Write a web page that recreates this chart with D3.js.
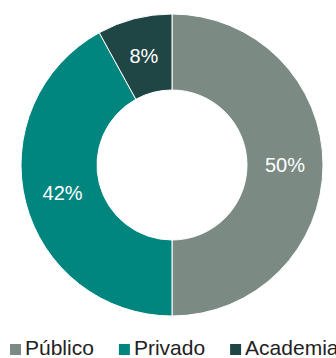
<!DOCTYPE html>
<html>
<head>
<meta charset="utf-8">
<script src="https://cdn.jsdelivr.net/npm/d3@7"></script>
<style>
  body { margin: 0; background: #fff; }
  svg { display: block; font-family: Arial, "Liberation Sans", sans-serif; }
</style>
</head>
<body>
<div id="chart"></div>
<script>
var categories = ['Público', 'Privado', 'Academia'];
var values = [50, 42, 8];
var colors = ['#7b8b84', '#00857f', '#1f4544'];

var width = 336,
    height = 358,
    cx = 172,
    cy = 165,
    outerR = 151,
    innerR = 75;

var svg = d3.select('#chart')
            .append('svg')
              .attr('width', width)
              .attr('height', height);

var colorScale = d3.scaleOrdinal().domain(categories).range(colors);

var pie = d3.pie().sort(null).value(function(d) { return d.value; });
var arc = d3.arc().innerRadius(innerR).outerRadius(outerR);
var labelArc = d3.arc().innerRadius((innerR + outerR) / 2).outerRadius((innerR + outerR) / 2);

var data = categories.map(function(c, i) { return { name: c, value: values[i] }; });

var g = svg.append('g')
           .attr('transform', 'translate(' + cx + ',' + cy + ')');

var slices = g.selectAll('.slice')
              .data(pie(data))
              .enter()
              .append('g')
              .attr('class', 'slice');

slices.append('path')
      .attr('d', arc)
      .style('fill', function(d) { return colorScale(d.data.name); })
      .style('stroke', '#fff')
      .style('stroke-width', 1);

slices.append('text')
      .attr('transform', function(d) { return 'translate(' + labelArc.centroid(d) + ')'; })
      .attr('text-anchor', 'middle')
      .attr('dy', '0.35em')
      .style('fill', '#fff')
      .style('font-size', '20px')
      .text(function(d) { return d.data.value + '%'; });

// legend along the bottom
var rectSize = 11,
    horzPadding = 4,
    itemGap = 25,
    legendY = 355;

var legend = svg.append('g').attr('class', 'legend');
var xPos = 10;
categories.forEach(function(c) {
  var key = legend.append('g').attr('transform', 'translate(' + xPos + ',0)');
  key.append('rect')
     .attr('x', 0)
     .attr('y', legendY - rectSize)
     .attr('width', rectSize)
     .attr('height', rectSize)
     .style('fill', colorScale(c));
  var t = key.append('text')
     .attr('x', rectSize + horzPadding)
     .attr('y', legendY)
     .style('fill', '#222')
     .style('font-size', '21px')
     .text(c);
  xPos += rectSize + horzPadding + t.node().getComputedTextLength() + itemGap;
});
</script>
</body>
</html>
